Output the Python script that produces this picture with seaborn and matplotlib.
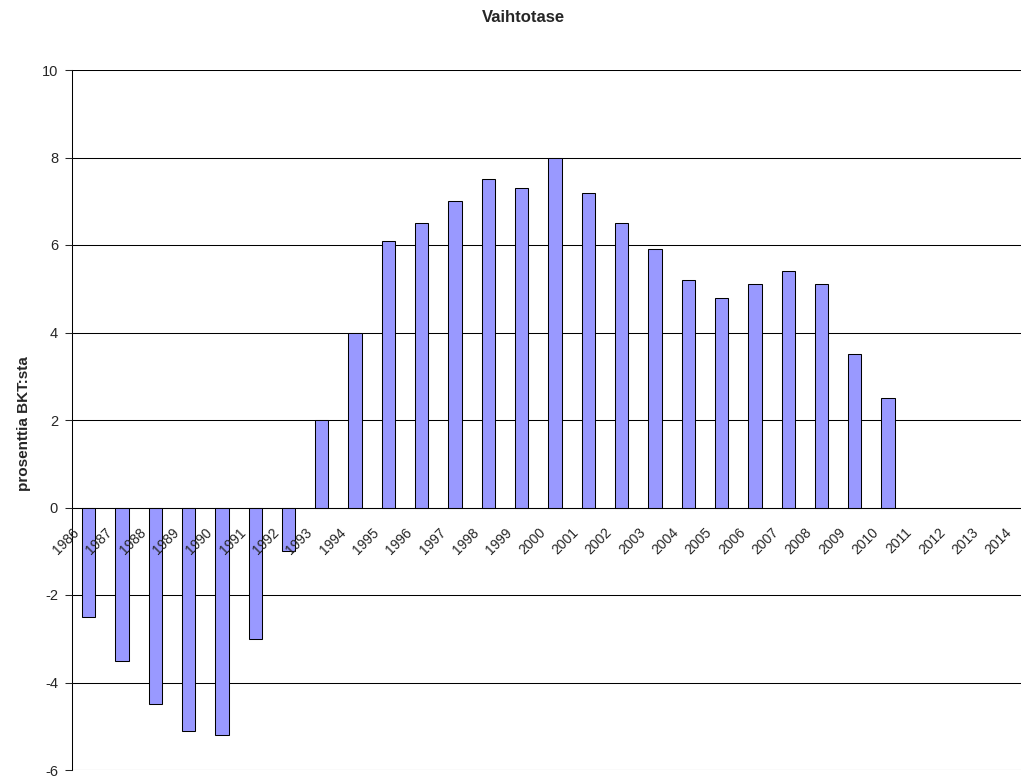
import numpy as np
import pandas as pd
import matplotlib
matplotlib.use("Agg")
import matplotlib.pyplot as plt
import seaborn as sns

# data
years = [str(y) for y in range(1986, 2015)]
values = [-2.5, -3.5, -4.5, -5.1, -5.2, -3.0, -1.0, 2.0, 4.0, 6.1,
          6.5, 7.0, 7.5, 7.3, 8.0, 7.2, 6.5, 5.9, 5.2, 4.8,
          5.1, 5.4, 5.1, 3.5, 2.5, np.nan, np.nan, np.nan, np.nan]
y_ticks = [-6, -4, -2, 0, 2, 4, 6, 8, 10]

df = pd.DataFrame({"vuosi": years, "arvo": values})

sns.set_style("white")
plt.rcParams["font.family"] = ["Liberation Sans", "DejaVu Sans"]
plt.rcParams["axes.unicode_minus"] = False

fig = plt.figure(figsize=(10.21, 7.77), dpi=100)
# plot area runs a bit past the right edge, like the original screenshot
ax = fig.add_axes([72 / 1021, 1 - 770 / 777, 966 / 1021, 700 / 777])

sns.barplot(data=df, x="vuosi", y="arvo", order=years, color="#9999FF",
            saturation=1, width=0.4, edgecolor="black", linewidth=0.75, ax=ax)

ax.set_ylim(-6, 10)
ax.set_xlim(-0.5, len(years) - 0.5)
ax.set_yticks(y_ticks)
# gridlines by hand so the tick labels can sit on top of the bars
for yt in y_ticks:
    ax.axhline(yt, color="black", linewidth=0.75, zorder=0.5)
ax.grid(False)
ax.set_axisbelow(False)

for s in ["top", "right"]:
    ax.spines[s].set_visible(False)
ax.spines["bottom"].set_position(("data", 0))
ax.spines["left"].set_color("black")
ax.spines["left"].set_linewidth(0.75)
ax.spines["bottom"].set_color("black")
ax.spines["bottom"].set_linewidth(0.75)

# ticks on category boundaries, labels shifted left of the centres
ax.set_xticks(np.arange(len(years)) - 0.5)
ax.set_xticklabels(years, rotation=45, ha="right", va="top", rotation_mode="anchor")
ax.set_xticks(np.arange(len(years) + 1) - 0.5, minor=True)
ax.tick_params(axis="x", which="major", length=0, pad=13, labelsize=10)
ax.tick_params(axis="x", which="minor", length=5, width=0.75, direction="out", bottom=True)
ax.tick_params(axis="y", length=5, width=0.75, direction="out", left=True, pad=5, labelsize=10.5)

ax.set_xlabel("")
ax.set_ylabel("prosenttia BKT:sta", fontsize=11, fontweight="bold")
ax.yaxis.set_label_coords(-41 / 966, 0.5 - 4 / 700)

fig.text(523 / 1021, 1 - 17 / 777, "Vaihtotase", ha="center", va="center",
         fontsize=12, fontweight="bold")

fig.savefig("out.png", dpi=100)
